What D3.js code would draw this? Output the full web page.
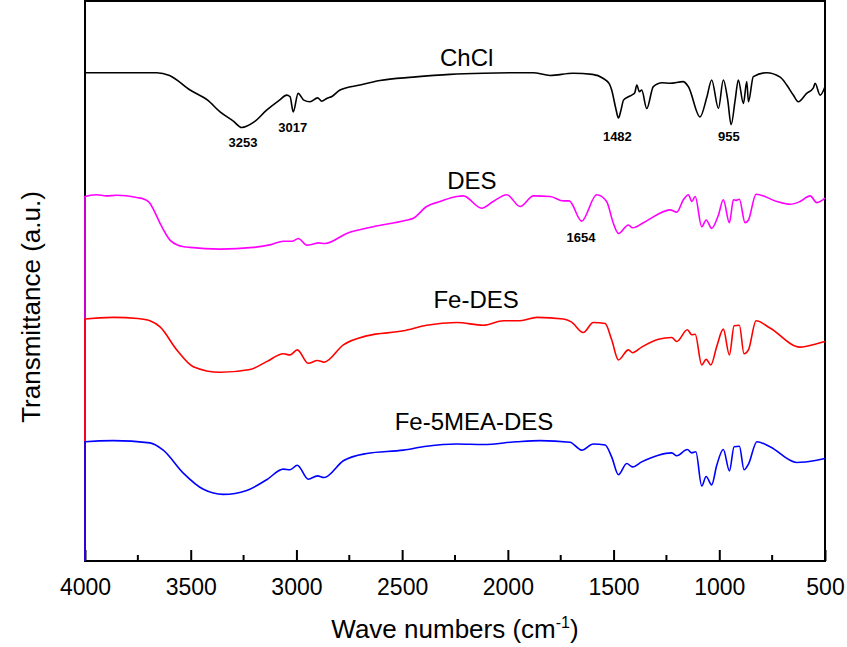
<html lang="en">
<head>
    <meta charset="UTF-8">
    <title>FTIR spectra</title>
    <style>
        body { margin: 0; background: #fff; }
        text { font-family: "Liberation Sans", Arial, sans-serif; fill: #000; }
    </style>
</head>
<body>
<script src="https://d3js.org/d3.v7.min.js"></script>

<script>
// spectra: [wavenumber, transmittance (a.u.)]
const chcl = [
    [4000, 0], [4000, 87.2], [3800, 87.2], [3661, 87.2], [3600, 86.7], [3503, 84.1], [3420, 82.3],
    [3361, 80.2], [3300, 78.6], [3259, 77.4], [3200, 78.4], [3141, 80.5], [3080, 82.3], [3046, 83.2],
    [3030, 82.9], [3015, 80.2], [2992, 83.5], [2965, 82.3], [2936, 82.0], [2900, 82.7], [2880, 82.1],
    [2857, 82.6], [2830, 83.0], [2794, 84.1], [2700, 85.0], [2605, 85.8], [2448, 86.4], [2273, 86.9],
    [2117, 87.1], [1881, 87.2], [1800, 86.7], [1692, 87.1], [1600, 86.9], [1550, 86.2], [1520, 85.2],
    [1509, 84.1], [1490, 80.9], [1477, 79.1], [1465, 80.5], [1453, 82.3], [1430, 82.9], [1414, 83.2],
    [1400, 83.6], [1390, 85.0], [1378, 83.8], [1367, 84.1], [1343, 80.8], [1312, 84.7], [1270, 85.4],
    [1233, 85.3], [1171, 85.6], [1146, 84.7], [1091, 79.3], [1059, 82.8], [1036, 85.9], [1004, 80.8],
    [981, 85.9], [960, 82.3], [944, 77.9], [925, 82.3], [910, 85.9], [886, 81.7], [870, 85.6],
    [862, 82.0], [839, 86.5], [776, 87.2], [712, 86.4], [681, 85.0], [650, 83.2], [626, 82.0],
    [587, 83.5], [555, 84.5], [547, 85.3], [523, 83.2], [500, 84.7]
]

const des = [
    [4000, 0], [4000, 65.1], [3945, 65.4], [3900, 65.2], [3850, 65.3], [3755, 64.9], [3720, 64.6],
    [3693, 63.9], [3670, 62.3], [3645, 60.3], [3598, 57.3], [3560, 56.4], [3503, 56.0], [3361, 55.7],
    [3204, 56.0], [3120, 56.5], [3062, 57.1], [3020, 57.1], [2991, 57.6], [2951, 56.4], [2920, 56.6],
    [2896, 56.8], [2865, 56.7], [2762, 58.5], [2636, 59.7], [2486, 60.8], [2447, 61.2], [2384, 63.3],
    [2321, 64.2], [2242, 65.1], [2211, 65.2], [2124, 63.0], [2069, 64.2], [2005, 65.4], [1942, 63.3],
    [1879, 65.2], [1800, 65.1], [1737, 64.3], [1710, 64.3], [1651, 60.7], [1580, 65.4], [1533, 64.2],
    [1501, 60.3], [1477, 58.5], [1430, 60.0], [1410, 59.5], [1359, 60.4], [1296, 61.8], [1233, 62.7],
    [1201, 62.3], [1170, 64.5], [1146, 65.4], [1130, 64.2], [1114, 65.1], [1083, 59.7], [1062, 60.9],
    [1036, 59.4], [1004, 61.8], [981, 64.5], [952, 60.4], [933, 64.5], [920, 64.4], [905, 64.6],
    [878, 60.4], [862, 60.9], [826, 65.5], [728, 64.2], [665, 63.7], [618, 64.2], [570, 65.2],
    [539, 64.0], [500, 64.8]
]

const feDes = [
    [4000, 0], [4000, 43.2], [3866, 43.5], [3750, 43.3], [3693, 42.9], [3645, 41.8], [3566, 37.7],
    [3488, 34.7], [3361, 33.7], [3219, 34.2], [3141, 35.6], [3062, 37.0], [3030, 36.8], [2996, 37.7],
    [2944, 35.3], [2901, 35.8], [2869, 35.5], [2778, 38.6], [2668, 40.2], [2494, 41.1], [2384, 42.1],
    [2242, 42.6], [2116, 42.1], [2021, 42.9], [1942, 42.9], [1863, 43.5], [1737, 43.2], [1700, 42.7],
    [1643, 40.8], [1596, 42.6], [1540, 42.4], [1509, 39.5], [1477, 35.9], [1430, 37.7], [1410, 37.2],
    [1367, 38.2], [1288, 39.6], [1225, 39.9], [1201, 39.2], [1151, 41.3], [1130, 40.4], [1114, 40.5],
    [1083, 35.0], [1062, 36.0], [1040, 35.0], [1012, 38.3], [981, 41.4], [952, 36.8], [930, 42.0],
    [905, 42.1], [883, 37.0], [862, 37.7], [826, 42.9], [760, 41.6], [618, 38.2], [539, 38.8],
    [500, 39.2]
]

const fe5meaDes = [
    [4000, 0], [4000, 21.3], [3866, 21.5], [3693, 21.1], [3630, 19.8], [3535, 15.7], [3440, 12.8],
    [3346, 11.9], [3235, 12.6], [3141, 14.5], [3062, 16.4], [3030, 16.3], [2996, 17.1], [2944, 14.6],
    [2901, 15.2], [2869, 14.9], [2778, 17.9], [2668, 19.2], [2494, 19.8], [2384, 20.5], [2242, 20.9],
    [2116, 20.8], [1958, 21.3], [1848, 21.5], [1706, 21.2], [1651, 19.8], [1596, 20.9], [1540, 20.7],
    [1509, 18.6], [1477, 15.4], [1438, 17.4], [1410, 16.8], [1367, 17.7], [1288, 18.9], [1225, 19.3],
    [1201, 18.8], [1151, 19.9], [1130, 19.3], [1111, 19.5], [1083, 13.4], [1062, 15.1], [1036, 13.6],
    [1012, 17.1], [981, 19.9], [952, 16.1], [930, 20.4], [905, 20.5], [883, 16.3], [862, 17.3],
    [822, 21.3], [760, 20.4], [634, 17.6], [539, 18.0], [500, 18.3]
]

const seriesNames = ['ChCl', 'DES', 'Fe-DES', 'Fe-5MEA-DES']
const seriesColors = ['#000000', '#ff00ff', '#ff0000', '#0000ff']
// label anchor: [wavenumber, a.u.]
const seriesLabelPos = [[2195, 88.4], [2170, 66.4], [2150, 45.2], [2160, 23.4]]

const peakLabels = ['3253', '3017', '1482', '955', '1654']
const peakPos = [[3253, 74.0], [3017, 76.6], [1482, 75.0], [955, 75.0], [1654, 57.0]]

const xTicks = [4000, 3500, 3000, 2500, 2000, 1500, 1000, 500]
const xMinorTicks = [3750, 3250, 2750, 2250, 1750, 1250, 750]

const m = {
    width: 847,
    height: 647,
    left: 85,
    right: 825,
    top: 1,
    bottom: 561
}

const svg = d3.select('body').append('svg')
    .attr('width', m.width)
    .attr('height', m.height)

const x = d3.scaleLinear().domain([4000, 500]).range([m.left, m.right])
const y = d3.scaleLinear().domain([0, 100]).range([m.bottom, m.top])

const line = d3.line()
    .x(d => x(d[0]))
    .y(d => y(d[1]))
    .curve(d3.curveMonotoneX)

// frame
svg.append('rect')
    .attr('x', m.left)
    .attr('y', m.top)
    .attr('width', m.right - m.left)
    .attr('height', m.bottom - m.top)
    .attr('fill', 'none')
    .attr('stroke', '#000')
    .attr('stroke-width', 2)

// inward ticks on bottom axis
const ax = svg.append('g').attr('transform', `translate(0,${m.bottom})`)
ax.call(d3.axisBottom(x).tickValues(xTicks).tickSizeInner(-11).tickSizeOuter(0).tickPadding(20).tickFormat(d3.format('d')))
ax.select('.domain').remove()
ax.selectAll('.tick line').attr('stroke-width', 2)
ax.selectAll('.tick text')
    .style('font-size', '23px')
    .style('font-family', '"Liberation Sans", Arial, sans-serif')
    .attr('dy', '0.62em')

svg.append('g')
    .selectAll('line')
    .data(xMinorTicks)
    .enter()
    .append('line')
        .attr('x1', d => x(d))
        .attr('x2', d => x(d))
        .attr('y1', m.bottom)
        .attr('y2', m.bottom - 6)
        .attr('stroke', '#000')
        .attr('stroke-width', 2)

// spectra
const spectra = [chcl, des, feDes, fe5meaDes]
svg.append('g')
    .selectAll('path')
    .data(spectra)
    .enter()
    .append('path')
        .attr('d', line)
        .attr('fill', 'none')
        .attr('stroke', (d, i) => seriesColors[i])
        .attr('stroke-width', 1.6)

svg.append('g')
    .selectAll('text')
    .data(seriesNames)
    .enter()
    .append('text')
        .attr('x', (d, i) => x(seriesLabelPos[i][0]))
        .attr('y', (d, i) => y(seriesLabelPos[i][1]))
        .attr('text-anchor', 'middle')
        .style('font-size', '24px')
        .text(d => d)

svg.append('g')
    .selectAll('text')
    .data(peakLabels)
    .enter()
    .append('text')
        .attr('x', (d, i) => x(peakPos[i][0]))
        .attr('y', (d, i) => y(peakPos[i][1]))
        .attr('text-anchor', 'middle')
        .style('font-size', '13px')
        .style('font-weight', 'bold')
        .text(d => d)

// axis titles
const xt = svg.append('text')
    .attr('x', (m.left + m.right) / 2)
    .attr('y', 638)
    .attr('text-anchor', 'middle')
    .style('font-size', '26px')
xt.append('tspan').text('Wave numbers (cm')
xt.append('tspan').attr('dy', -10).style('font-size', '16px').text('-1')
xt.append('tspan').attr('dy', 10).text(')')

svg.append('text')
    .attr('transform', 'translate(40,307) rotate(-90)')
    .attr('text-anchor', 'middle')
    .style('font-size', '26px')
    .text('Transmittance (a.u.)')
</script>
</body>
</html>
